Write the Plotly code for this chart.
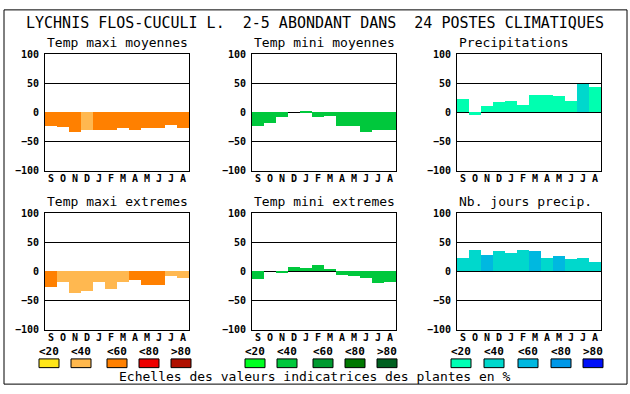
import plotly.graph_objects as go

W, H = 630, 394

months = ["S", "O", "N", "D", "J", "F", "M", "A", "M", "J", "J", "A"]

titles = ["Temp maxi moyennes", "Temp mini moyennes", "Precipitations",
          "Temp maxi extremes", "Temp mini extremes", "Nb. jours precip."]

tmax_moy = [-23, -25, -34, -31, -31, -31, -27, -31, -27, -27, -22, -27]
tmin_moy = [-23, -18, -8, 0, 2, -8, -6, -23, -24, -34, -31, -31]
precip = [23, -4, 10, 17, 20, 13, 30, 30, 27, 20, 49, 43]
tmax_ext = [-28, -18, -38, -34, -18, -31, -18, -16, -23, -23, -8, -11]
tmin_ext = [-14, 0, -3, 7, 6, 11, 4, -6, -8, -11, -21, -18]
nb_jours = [22, 37, 27, 34, 31, 36, 34, 22, 26, 21, 22, 16]

OR, LOR = "#FF8000", "#FFB850"
GR = "#00C83C"
MINT, CY, SKY = "#00FFB0", "#00D8CC", "#00B8E0"

c_tmax_moy = [OR, OR, OR, LOR, OR, OR, OR, OR, OR, OR, OR, OR]
c_tmin_moy = [GR] * 12
c_precip = [MINT] * 10 + [CY, MINT]
c_tmax_ext = [OR, LOR, LOR, LOR, LOR, LOR, LOR, OR, OR, OR, LOR, LOR]
c_tmin_ext = [GR] * 12
c_nb_jours = [CY, CY, SKY, CY, CY, CY, SKY, CY, SKY, CY, CY, CY]

series = [tmax_moy, tmin_moy, precip, tmax_ext, tmin_ext, nb_jours]
colors = [c_tmax_moy, c_tmin_moy, c_precip, c_tmax_ext, c_tmin_ext, c_nb_jours]

y_ticks = [-100, -50, 0, 50, 100]

legend_labels = ["<20", "<40", "<60", "<80", ">80"]
legend_colors = [
    ["#FFE619", "#FFB84D", "#FF8000", "#EE0000", "#B01000"],
    ["#00FF20", "#00C83C", "#009A30", "#007800", "#006020"],
    ["#00FFB4", "#00D8CC", "#00B8E0", "#0098E8", "#0010F8"],
]
legend_x = [
    [39, 71, 107, 139, 171],
    [245, 277, 313, 345, 377],
    [451, 484, 518, 551, 583],
]

main_title = "LYCHNIS FLOS-CUCULI L.  2-5 ABONDANT DANS  24 POSTES CLIMATIQUES"
bottom_text = "Echelles des valeurs indicatrices des plantes en %"

MONO = "DejaVu Sans Mono"

cols = [(45, 189), (252, 396), (457, 601)]
rows = [(50, 170), (214, 334)]


def px(x):
    return x / W


def py(y):
    return 1 - y / H


fig = go.Figure()
layout = {}
annotations = []
shapes = []

for i in range(6):
    r, c = divmod(i, 3)
    ax = "" if i == 0 else str(i + 1)
    fig.add_trace(go.Bar(
        x=list(range(12)), y=series[i], marker=dict(color=colors[i], line=dict(width=0)),
        xaxis="x" + ax, yaxis="y" + ax, showlegend=False, hoverinfo="y",
    ))
    x0, x1 = cols[c]
    y0, y1 = rows[r]
    layout["xaxis" + ax] = dict(
        domain=[px(x0), px(x1)], range=[-0.5, 11.5], anchor="y" + ax,
        tickvals=list(range(12)), ticktext=months, ticks="", showgrid=False,
        zeroline=False, showline=True, linecolor="black", linewidth=1, mirror=True,
        tickfont=dict(family=MONO, size=10, color="black", weight="bold"),
        ticklabelstandoff=-2, fixedrange=True,
    )
    layout["yaxis" + ax] = dict(
        domain=[py(y1), py(y0)], range=[-100, 100], anchor="x" + ax,
        tickvals=y_ticks, ticks="", showgrid=True, gridcolor="black", gridwidth=1,
        zeroline=True, zerolinecolor="black", zerolinewidth=1,
        showline=True, linecolor="black", linewidth=1, mirror=True,
        tickfont=dict(family=MONO, size=10, color="black", weight="bold"),
        ticklabelstandoff=3, fixedrange=True,
    )
    annotations.append(dict(
        text=titles[i], x=px(x0), y=py(y0 - 12), xref="paper", yref="paper",
        xanchor="left", yanchor="middle", showarrow=False,
        font=dict(family=MONO, size=13, color="black"),
    ))

annotations.append(dict(
    text=main_title, x=0.5, y=py(18), xref="paper", yref="paper",
    xanchor="center", yanchor="middle", showarrow=False,
    font=dict(family=MONO, size=15, color="black"),
))
annotations.append(dict(
    text=bottom_text, x=0.5, y=py(382), xref="paper", yref="paper",
    xanchor="center", yanchor="middle", showarrow=False,
    font=dict(family=MONO, size=13, color="black"),
))

for g in range(3):
    for k in range(5):
        bx = legend_x[g][k]
        shapes.append(dict(
            type="rect", xref="paper", yref="paper",
            x0=px(bx), x1=px(bx + 20), y0=py(373), y1=py(364),
            fillcolor=legend_colors[g][k], line=dict(color="black", width=1),
        ))
        annotations.append(dict(
            text=legend_labels[k], x=px(bx + 10), y=py(356), xref="paper", yref="paper",
            xanchor="center", yanchor="middle", showarrow=False,
            font=dict(family=MONO, size=11, color="black", weight="bold"),
        ))

shapes.append(dict(
    type="rect", xref="paper", yref="paper",
    x0=px(4), x1=px(627), y0=py(390), y1=py(4),
    line=dict(color="black", width=1), fillcolor="rgba(0,0,0,0)",
))

fig.update_layout(
    width=W, height=H, margin=dict(l=0, r=0, t=0, b=0),
    paper_bgcolor="white", plot_bgcolor="white",
    bargap=0, annotations=annotations, shapes=shapes, **layout,
)

fig.write_html(
    "out.html",
    config={"displayModeBar": False},
    post_script="document.body.style.margin='0';document.body.style.padding='0';document.body.style.overflow='hidden';",
)
